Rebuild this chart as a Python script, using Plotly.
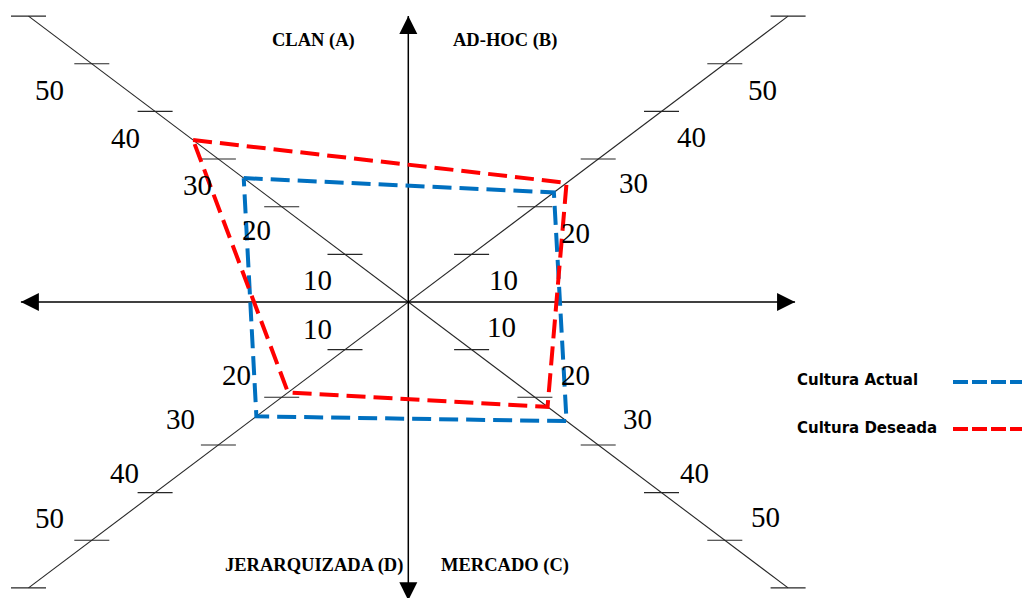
import plotly.graph_objects as go

# Quadrant names (A: top-left, B: top-right, C: bottom-right, D: bottom-left)
quadrants = ["CLAN (A)", "AD-HOC (B)", "MERCADO (C)", "JERARQUIZADA (D)"]

# Scores per culture type, in the order A, B, C, D
cultura_actual = [26, 23, 25, 24]
cultura_deseada = [34, 25, 22, 19]

# Scale marks along each diagonal
scale_ticks = [10, 20, 30, 40, 50, 60]
scale_labels = ["10", "20", "30", "40", "50"]

# ---- geometry / styling ----
W, H = 1022, 598
PX_X, PX_Y = 6.33, 4.765          # pixels per score unit along x and y
CX, CY = 408.3, 302.0             # centre of the diagram, in pixels
SIGNS = [(-1, 1), (1, 1), (1, -1), (-1, -1)]   # direction of A, B, C, D
DIAG_END = 60
TICK_HALF = 17.5 / PX_X
BLUE, RED = "#0070C0", "#FF0000"

x_range = [-CX / PX_X, (W - CX) / PX_X]
y_range = [-(H - CY) / PX_Y, CY / PX_Y]


def polygon(values):
    xs = [sx * v for (sx, sy), v in zip(SIGNS, values)]
    ys = [sy * v for (sx, sy), v in zip(SIGNS, values)]
    return xs + xs[:1], ys + ys[:1]


fig = go.Figure()

# diagonal scales
for a, b in ((0, 2), (1, 3)):
    fig.add_trace(go.Scatter(
        x=[SIGNS[a][0] * DIAG_END, SIGNS[b][0] * DIAG_END],
        y=[SIGNS[a][1] * DIAG_END, SIGNS[b][1] * DIAG_END],
        mode="lines", line=dict(color="#262626", width=1.1),
        hoverinfo="skip", showlegend=False))

tx, ty = [], []
for sx, sy in SIGNS:
    for v in scale_ticks:
        tx += [sx * v - TICK_HALF, sx * v + TICK_HALF, None]
        ty += [sy * v, sy * v, None]
fig.add_trace(go.Scatter(x=tx, y=ty, mode="lines",
                         line=dict(color="#262626", width=1.1),
                         hoverinfo="skip", showlegend=False))

# main cross with arrowheads
H_END_L, H_END_R = -61.2, 61.1
V_END_T, V_END_B = 60.0, -62.6
fig.add_trace(go.Scatter(x=[H_END_L, H_END_R], y=[0, 0], mode="lines",
                         line=dict(color="black", width=1.5),
                         hoverinfo="skip", showlegend=False))
fig.add_trace(go.Scatter(x=[0, 0], y=[V_END_B, V_END_T], mode="lines",
                         line=dict(color="black", width=1.5),
                         hoverinfo="skip", showlegend=False))
fig.add_trace(go.Scatter(
    x=[H_END_L, H_END_R, 0, 0], y=[0, 0, V_END_T, V_END_B], mode="markers",
    marker=dict(symbol=["arrow-left", "arrow-right", "arrow-up", "arrow-down"],
                size=18, color="black", line=dict(width=0)),
    hoverinfo="skip", showlegend=False))

# culture profiles
for name, vals, col in (("Cultura Actual", cultura_actual, BLUE),
                        ("Cultura Deseada", cultura_deseada, RED)):
    px, py = polygon(vals)
    fig.add_trace(go.Scatter(x=px, y=py, mode="lines", name=name,
                             line=dict(color=col, width=4, dash="19px,8px"),
                             showlegend=False))

# scale numbers (pixel offsets from each tick, per quadrant)
label_offsets = {
    0: [(-28, 26), (-25, 23), (-21, 26), (-30, 27), (-42, 26)],
    1: [(32, 26), (41, 26), (35, 24), (30, 26), (38, 26)],
    2: [(30, -23), (41, -22), (39, -26), (33, -20), (41, -23)],
    3: [(-28, -21), (-45, -22), (-38, -26), (-31, -20), (-42, -22)],
}
annotations = []
for q, (sx, sy) in enumerate(SIGNS):
    for i, (v, txt) in enumerate(zip(scale_ticks, scale_labels)):
        dx, dy = label_offsets[q][i]
        annotations.append(dict(
            x=sx * v, y=sy * v, xref="x", yref="y", text=txt, showarrow=False,
            xshift=dx, yshift=-dy, xanchor="center", yanchor="middle",
            font=dict(family="Liberation Serif", size=29, color="black")))

# quadrant titles
title_pos = [(-14.9, 54.8), (15.3, 54.8), (15.3, -55.2), (-14.9, -55.2)]
for name, (x, y) in zip(quadrants, title_pos):
    annotations.append(dict(
        x=x, y=y, xref="x", yref="y", text=f"<b>{name}</b>", showarrow=False,
        xanchor="center", yanchor="middle",
        font=dict(family="Liberation Serif", size=18.5, color="black")))

# legend drawn beside the diagram
leg_x_text = (795 - CX) / PX_X
leg_x0, leg_x1 = (953 - CX) / PX_X, (1040 - CX) / PX_X
for name, col, yt, yl in (("Cultura Actual", BLUE, 380, 382),
                          ("Cultura Deseada", RED, 428, 429)):
    annotations.append(dict(
        x=leg_x_text, y=(CY - yt) / PX_Y, xref="x", yref="y",
        text=f"<b>{name}</b>", showarrow=False, xanchor="left",
        yanchor="middle",
        font=dict(family="DejaVu Sans", size=15, color="black")))
    fig.add_trace(go.Scatter(
        x=[leg_x0, leg_x1], y=[(CY - yl) / PX_Y] * 2, mode="lines",
        line=dict(color=col, width=4, dash="15px,4px"),
        hoverinfo="skip", showlegend=False))

fig.update_layout(
    width=W, height=H, margin=dict(l=0, r=0, t=0, b=0),
    paper_bgcolor="white", plot_bgcolor="white",
    xaxis=dict(range=x_range, visible=False, fixedrange=True),
    yaxis=dict(range=y_range, visible=False, fixedrange=True),
    annotations=annotations, showlegend=False)

fig.write_html("out.html")
